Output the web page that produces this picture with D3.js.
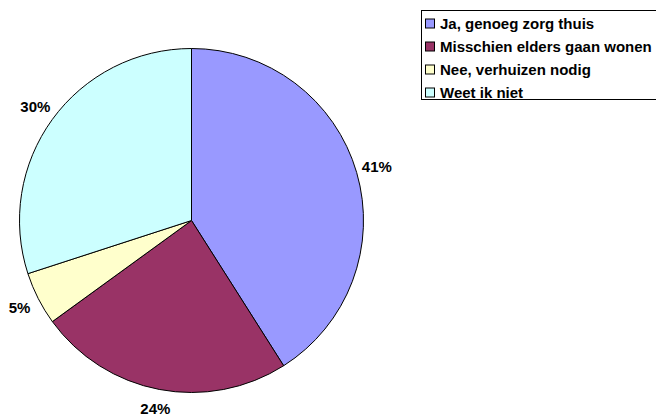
<!DOCTYPE html>
<html>
<head>
<meta charset="utf-8">
<script src="https://cdn.jsdelivr.net/npm/d3@7"></script>
<style>
  body { margin: 0; background: #fff; }
  svg { display: block; font-family: "Liberation Sans", Arial, sans-serif; font-weight: bold; }
</style>
</head>
<body>
<div id="chart"></div>
<script>
// data
const categories = ["Ja, genoeg zorg thuis", "Misschien elders gaan wonen", "Nee, verhuizen nodig", "Weet ik niet"];
const values = [41, 24, 5, 30];
const colors = ["#9999FF", "#993366", "#FFFFCC", "#CCFFFF"];

const W = 656, H = 416;
const cx = 191.5, cy = 220.5, r = 172;

const svg = d3.select("#chart").append("svg")
    .attr("width", W)
    .attr("height", H);

const pie = d3.pie().sort(null).value(d => d)(values);
const arc = d3.arc().innerRadius(0).outerRadius(r);
// labels sit a bit outside the rim
const labelArc = d3.arc().innerRadius(193).outerRadius(193);

const g = svg.append("g").attr("transform", `translate(${cx},${cy})`);

g.selectAll("path")
    .data(pie)
    .enter().append("path")
    .attr("d", arc)
    .attr("fill", (d, i) => colors[i])
    .attr("stroke", "#000")
    .attr("stroke-width", 1);

// keep the bottom label inside the picture
const maxY = H - 7 - cy;

g.selectAll("text")
    .data(pie)
    .enter().append("text")
    .attr("transform", d => {
        const [x, y] = labelArc.centroid(d);
        return `translate(${x},${Math.min(y, maxY)})`;
    })
    .attr("text-anchor", "middle")
    .attr("dy", "0.35em")
    .attr("font-size", 15)
    .text(d => d.value + "%");

// legend
const legend = svg.append("g").attr("transform", "translate(421,10)");
legend.append("rect")
    .attr("x", 0.5).attr("y", 0.5)
    .attr("width", 240).attr("height", 89)
    .attr("fill", "#fff")
    .attr("stroke", "#000");

const row = legend.selectAll("g.row")
    .data(categories)
    .enter().append("g")
    .attr("class", "row")
    .attr("transform", (d, i) => `translate(4,${13.5 + i * 23})`);

row.append("rect")
    .attr("x", 0.5).attr("y", -4.5)
    .attr("width", 9).attr("height", 9)
    .attr("fill", (d, i) => colors[i])
    .attr("stroke", "#000");

row.append("text")
    .attr("x", 15)
    .attr("dy", "0.36em")
    .attr("font-size", 15)
    .text(d => d);
</script>
</body>
</html>
